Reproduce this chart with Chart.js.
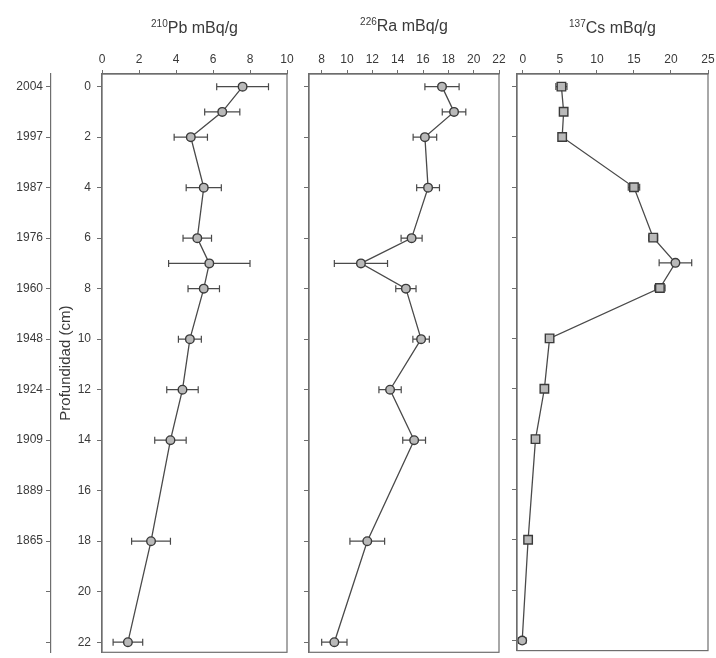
<!DOCTYPE html>
<html>
<head>
<meta charset="utf-8">
<script src="https://cdn.jsdelivr.net/npm/chart.js@4.4.1/dist/chart.umd.min.js"></script>
<style>
  html, body { margin: 0; padding: 0; background: #ffffff; }
  #wrap { position: relative; width: 716px; height: 658px; overflow: hidden; }
  #wrap canvas { position: absolute; top: 0; }
</style>
</head>
<body>
<div id="wrap">
  <canvas id="pb" width="296" height="658" style="left:0px"></canvas>
  <canvas id="ra" width="212" height="658" style="left:296px"></canvas>
  <canvas id="cs" width="208" height="658" style="left:508px"></canvas>
</div>
<script>
// Sediment core profile: activity (mBq/g) against depth (cm)
const depths = [0, 1, 2, 4, 6, 7, 8, 10, 12, 14, 18, 22];

const pbValues = [7.6, 6.5, 4.8, 5.5, 5.15, 5.8, 5.5, 4.75, 4.35, 3.7, 2.65, 1.4];
const pbErrors = [1.4, 0.95, 0.9, 0.95, 0.77, 2.2, 0.85, 0.62, 0.85, 0.85, 1.05, 0.8];

const raValues = [17.5, 18.45, 16.15, 16.4, 15.1, 11.1, 14.65, 15.85, 13.4, 15.3, 11.6, 9.0];
const raErrors = [1.35, 0.93, 0.93, 0.9, 0.83, 2.1, 0.8, 0.65, 0.88, 0.9, 1.37, 1.0];

const csValues = [5.2, 5.5, 5.3, 15.0, 17.6, 20.6, 18.5, 3.6, 2.9, 1.7, 0.7, -0.1];
const csErrors = [0.75, 0.3, 0.3, 0.77, 0.6, 2.2, 0.7, 0.3, 0.3, 0.3, 0.3, 0.5];
const csMarkers = ['rect', 'rect', 'rect', 'rect', 'rect', 'circle', 'rect', 'rect', 'rect', 'rect', 'rect', 'circle'];

// Axis ticks
const depthTicks = [0, 2, 4, 6, 8, 10, 12, 14, 16, 18, 20, 22];
const yearLabels = ['2004', '1997', '1987', '1976', '1960', '1948', '1924', '1909', '1889', '1865', '', ''];
const pbTicks = [0, 2, 4, 6, 8, 10];
const raTicks = [8, 10, 12, 14, 16, 18, 20, 22];
const csTicks = [0, 5, 10, 15, 20, 25];

const TEXT = '#3a3a3a';
const AXIS = '#6e6e6e';
const LINE = '#4a4a4a';
const FILL = '#b9b9b9';
const FONT = "'Liberation Sans', Arial, sans-serif";

Chart.defaults.font.family = FONT;
Chart.defaults.color = TEXT;

// Horizontal error bars with end caps, drawn beneath the markers
const errorBars = {
  id: 'errorBars',
  beforeDatasetsDraw(chart) {
    const { ctx } = chart;
    const xs = chart.scales.x, ys = chart.scales.y;
    chart.data.datasets.forEach(ds => {
      if (!ds.errors) return;
      ctx.save();
      ctx.strokeStyle = LINE;
      ctx.lineWidth = 1.2;
      ds.data.forEach((p, i) => {
        const e = ds.errors[i];
        const x1 = xs.getPixelForValue(p.x - e);
        const x2 = xs.getPixelForValue(p.x + e);
        const y = ys.getPixelForValue(p.y);
        ctx.beginPath();
        ctx.moveTo(x1, y); ctx.lineTo(x2, y);
        ctx.moveTo(x1, y - 3.5); ctx.lineTo(x1, y + 3.5);
        ctx.moveTo(x2, y - 3.5); ctx.lineTo(x2, y + 3.5);
        ctx.stroke();
      });
      ctx.restore();
    });
  }
};

// Frame round the plotting area
const frame = {
  id: 'frame',
  afterDraw(chart) {
    const { ctx, chartArea: a } = chart;
    ctx.save();
    ctx.strokeStyle = AXIS;
    ctx.lineWidth = 1.2;
    ctx.strokeRect(a.left, a.top, a.right - a.left, a.bottom - a.top);
    ctx.restore();
  }
};

// Panel heading: isotope mass number as a superscript, then the quantity
const panelTitle = {
  id: 'panelTitle',
  afterDraw(chart, args, opts) {
    const { ctx, chartArea: a } = chart;
    const supFont = '10px ' + FONT;
    const mainFont = '16px ' + FONT;
    ctx.save();
    ctx.font = supFont;
    const wSup = ctx.measureText(opts.mass).width;
    ctx.font = mainFont;
    const wMain = ctx.measureText(opts.label).width;
    const x0 = (a.left + a.right) / 2 - (wSup + wMain) / 2;
    const y = opts.y;
    ctx.fillStyle = TEXT;
    ctx.textAlign = 'left';
    ctx.textBaseline = 'alphabetic';
    ctx.font = supFont;
    ctx.fillText(opts.mass, x0, y - 6);
    ctx.font = mainFont;
    ctx.fillText(opts.label, x0 + wSup, y);
    ctx.restore();
  }
};

function depthScale(extra) {
  return Object.assign({
    type: 'linear',
    position: 'left',
    reverse: true,
    min: -0.5,
    max: 22.4,
    afterBuildTicks: s => { s.ticks = depthTicks.map(v => ({ value: v })); },
    grid: { drawOnChartArea: false, tickLength: 5, color: AXIS, lineWidth: 1 },
    border: { color: AXIS, width: 1.2 },
  }, extra);
}

function topScale(min, max, ticks) {
  return {
    type: 'linear',
    position: 'top',
    min: min,
    max: max,
    afterBuildTicks: s => { s.ticks = ticks.map(v => ({ value: v })); },
    afterFit: s => { s.height = 74; s.paddingLeft = 0; s.paddingRight = 0; },
    ticks: { padding: 3, font: { size: 12 }, color: TEXT, maxRotation: 0, autoSkip: false },
    grid: { drawOnChartArea: false, tickLength: 4, color: AXIS, lineWidth: 1 },
    border: { color: AXIS, width: 1.2 }
  };
}

function series(values, errors, styles) {
  return {
    data: values.map((v, i) => ({ x: v, y: depths[i] })),
    errors: errors,
    showLine: true,
    borderColor: LINE,
    borderWidth: 1.3,
    backgroundColor: FILL,
    pointBackgroundColor: FILL,
    pointBorderColor: '#3a3a3a',
    pointBorderWidth: 1.4,
    pointStyle: styles ? (c => styles[c.dataIndex]) : 'circle',
    pointRadius: styles ? (c => styles[c.dataIndex] === 'rect' ? 6 : 4.3) : 4.3,
    tension: 0
  };
}

function baseOptions(scales, padRight, mass, label, titleY) {
  return {
    responsive: false,
    animation: false,
    events: [],
    layout: { padding: { left: 0, top: 0, right: padRight, bottom: 2 } },
    plugins: {
      legend: { display: false },
      tooltip: { enabled: false },
      panelTitle: { mass: mass, label: label, y: titleY }
    },
    scales: scales
  };
}

// 210Pb panel, with the depth and year axes
new Chart(document.getElementById('pb'), {
  type: 'scatter',
  data: { datasets: [series(pbValues, pbErrors)] },
  options: baseOptions({
    x: topScale(0, 10, pbTicks),
    y: depthScale({
      weight: 0,
      afterFit: s => { s.width = 51; s.paddingTop = 0; s.paddingBottom = 0; },
      ticks: { padding: 6, font: { size: 12 }, color: TEXT },
      title: { display: true, text: 'Profundidad (cm)', font: { size: 15 }, color: TEXT, padding: { top: 6, bottom: 0 } }
    }),
    year: depthScale({
      weight: 1,
      afterFit: s => { s.width = 51; s.paddingTop = 0; s.paddingBottom = 0; },
      ticks: { padding: 3, font: { size: 12 }, color: TEXT,
               callback: v => yearLabels[depthTicks.indexOf(v)] }
    })
  }, 9, '210', 'Pb mBq/g', 33),
  plugins: [errorBars, frame, panelTitle]
});

// 226Ra panel
new Chart(document.getElementById('ra'), {
  type: 'scatter',
  data: { datasets: [series(raValues, raErrors)] },
  options: baseOptions({
    x: topScale(7, 22, raTicks),
    y: depthScale({
      afterFit: s => { s.width = 13; s.paddingTop = 0; s.paddingBottom = 0; },
      ticks: { display: false }
    })
  }, 9, '226', 'Ra mBq/g', 31),
  plugins: [errorBars, frame, panelTitle]
});

// 137Cs panel
new Chart(document.getElementById('cs'), {
  type: 'scatter',
  data: { datasets: [series(csValues, csErrors, csMarkers)] },
  options: baseOptions({
    x: topScale(-0.8, 25, csTicks),
    y: depthScale({
      afterFit: s => { s.width = 9; s.paddingTop = 0; s.paddingBottom = 0; },
      ticks: { display: false }
    })
  }, 8, '137', 'Cs mBq/g', 33),
  plugins: [errorBars, frame, panelTitle]
});
</script>
</body>
</html>
